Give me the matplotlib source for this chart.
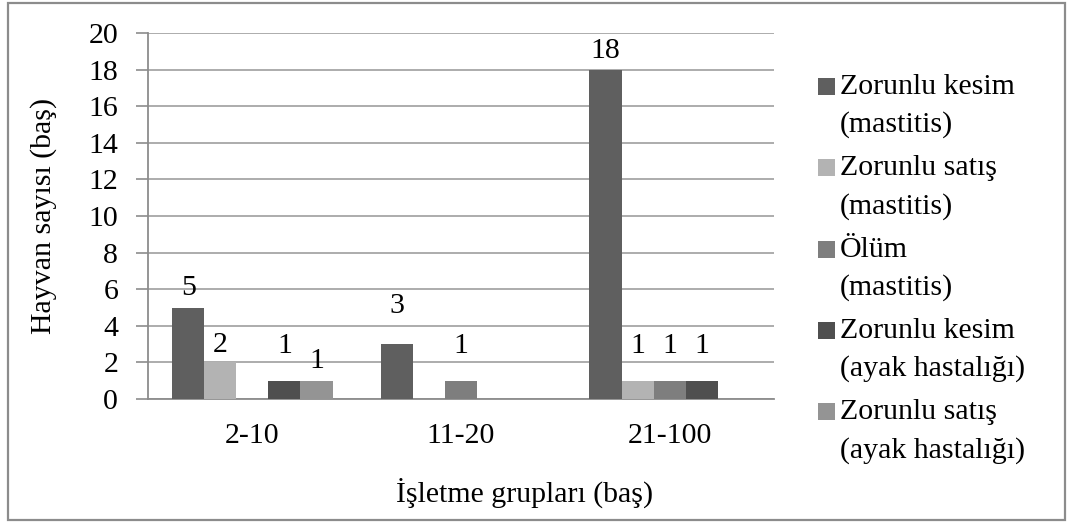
import numpy as np
import matplotlib
matplotlib.use("Agg")
import matplotlib.pyplot as plt
from matplotlib.patches import Rectangle

plt.rcParams['font.family'] = ['Liberation Serif', 'DejaVu Serif']

groups = ["2-10", "11-20", "21-100"]
series_names = [
    ["Zorunlu kesim", "(mastitis)"],
    ["Zorunlu satış", "(mastitis)"],
    ["Ölüm", "(mastitis)"],
    ["Zorunlu kesim", "(ayak hastalığı)"],
    ["Zorunlu satış", "(ayak hastalığı)"],
]
counts = [
    [5, 3, 18],   # zorunlu kesim (mastitis)
    [2, 0, 1],    # zorunlu satış (mastitis)
    [0, 1, 1],    # ölüm (mastitis)
    [1, 0, 1],    # zorunlu kesim (ayak hastalığı)
    [1, 0, 0],    # zorunlu satış (ayak hastalığı)
]
colors = ["#5f5f5f", "#b3b3b3", "#7e7e7e", "#4f4f4f", "#949494"]

# vertical gap (pt) between bar top and its value label
label_gap = [
    [5, 18, 4],
    [3, 0, 15.5],
    [0, 15.5, 15.5],
    [15.5, 0, 15.5],
    [5, 0, 0],
]

W, H = 1069, 526
fig = plt.figure(figsize=(W / 100, H / 100), dpi=100)
ax = fig.add_axes([148 / W, 1 - 399 / H, (774 - 148) / W, (399 - 33) / H])

fs = 21.5
x = np.arange(len(groups))
bw = 1 / 6.5
for i, vals in enumerate(counts):
    xs = x + (i - 2) * bw
    ax.bar(xs, vals, width=bw, color=colors[i], edgecolor="none", zorder=3)
    for xi, v, g in zip(xs, vals, label_gap[i]):
        if v > 0:
            ax.annotate(str(v), (xi, v), xytext=(0, g), textcoords="offset points",
                        ha="center", va="bottom", fontsize=fs)

ax.set_xlim(-0.5, 2.5)
ax.set_ylim(0, 20)
ax.set_yticks(np.arange(0, 21, 2))
ax.set_xticks(x)
ax.set_xticklabels(groups)
ax.tick_params(axis="x", length=0, pad=17, labelsize=fs)
ax.tick_params(axis="y", length=8.5, width=1.2, color="#8c8c8c", pad=13, labelsize=fs)
ax.yaxis.grid(True, color="#a6a6a6", linewidth=1.3, zorder=0)
for side in ["top", "right"]:
    ax.spines[side].set_visible(False)
for side in ["left", "bottom"]:
    ax.spines[side].set_color("#8c8c8c")
    ax.spines[side].set_linewidth(1.3)

ax.set_ylabel("Hayvan sayısı (baş)", fontsize=fs)
ax.yaxis.set_label_coords(-0.145, 0.5)
fig.text(525 / W, 1 - 493 / H, "İşletme grupları (baş)", ha="center", va="center", fontsize=fs)

# legend drawn by hand so that the swatch sits on the first text line
for i, (l1, l2) in enumerate(series_names):
    b = 94 + 81.3 * i
    fig.patches.append(Rectangle((818 / W, 1 - (b + 1) / H), 17 / W, 17 / H,
                                 transform=fig.transFigure, facecolor=colors[i],
                                 edgecolor="none"))
    fig.text(840 / W, 1 - b / H, l1, ha="left", va="baseline", fontsize=fs)
    fig.text(840 / W, 1 - (b + 38) / H, l2, ha="left", va="baseline", fontsize=fs)

# outer frame
fig.patches.append(Rectangle((8 / W, 1 - 520 / H), (1065 - 8) / W, (520 - 3) / H,
                             transform=fig.transFigure, fill=False,
                             edgecolor="#8c8c8c", linewidth=1.6))

fig.savefig("out.png", dpi=100)
